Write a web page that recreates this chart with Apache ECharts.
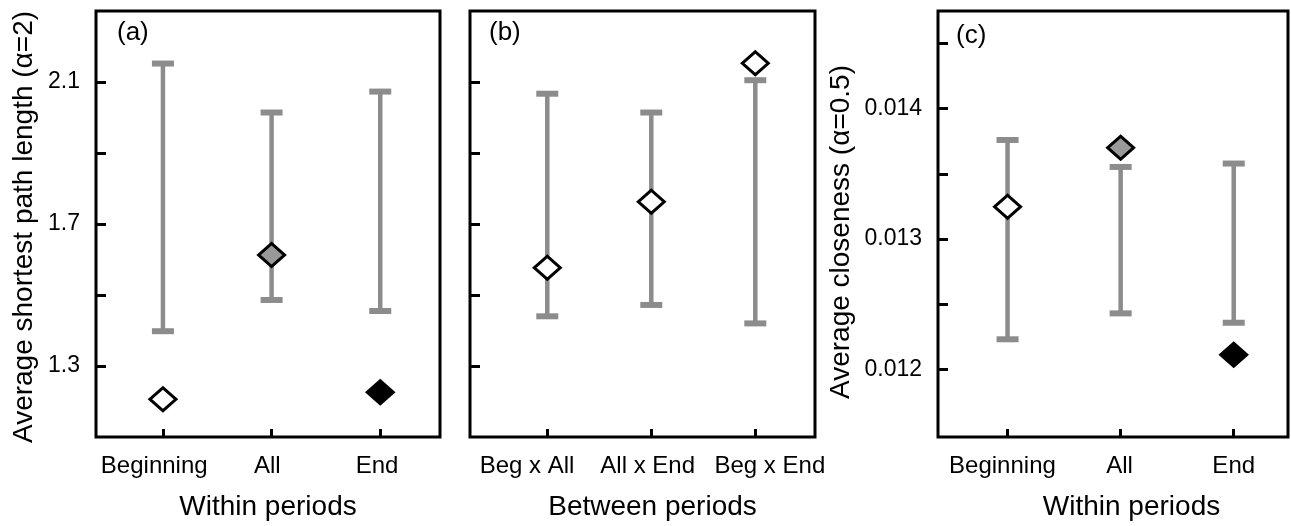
<!DOCTYPE html>
<html>
<head>
<meta charset="utf-8">
<script src="https://cdn.jsdelivr.net/npm/echarts@6/dist/echarts.min.js"></script>
<style>
  html, body { margin: 0; padding: 0; background: #fff; }
  #chart { width: 1291px; height: 526px; }
</style>
</head>
<body>
<div id="chart"></div>
<script>
// ---- data ----
const catsWithin = ['Beginning', 'All', 'End'];
const catsBetween = ['Beg x All', 'All x End', 'Beg x End'];

const pathMeanWithin = [1.206, 1.613, 1.226];
const pathLowWithin  = [1.398, 1.486, 1.455];
const pathHighWithin = [2.152, 2.014, 2.073];

const pathMeanBetween = [1.577, 1.763, 2.153];
const pathLowBetween  = [1.440, 1.472, 1.420];
const pathHighBetween = [2.067, 2.014, 2.105];

const closeMeanWithin = [0.013248, 0.013700, 0.012111];
const closeLowWithin  = [0.012230, 0.012429, 0.012357];
const closeHighWithin = [0.013760, 0.013553, 0.013579];

const pathTicks = [1.3, 1.5, 1.7, 1.9, 2.1];
const pathTickLabels = [1.3, 1.7, 2.1];
const closeTicks = [0.012, 0.0125, 0.013, 0.0135, 0.014, 0.0145];
const closeTickLabels = [0.012, 0.013, 0.014];

const fillsWithin = ['#ffffff', '#999999', '#000000'];
const fillsBetween = ['#ffffff', '#ffffff', '#ffffff'];

// ---- layout / styling (not data) ----
const FONT = 'Liberation Sans, Arial, sans-serif';
const BAR = '#8c8c8c';
// small horizontal nudges of category labels relative to their ticks (in category units)
const LABEL_NUDGE = [
  [-0.08, -0.04, -0.03],
  [-0.195, -0.035, 0.14],
  [-0.045, -0.01, 0.0]
];

function errorBarItem(params, api) {
  const x = api.value(0), lo = api.value(1), hi = api.value(2);
  const pLo = api.coord([x, lo]);
  const pHi = api.coord([x, hi]);
  const half = 11;
  const stem = { stroke: BAR, lineWidth: 4.5 };
  const cap = { stroke: BAR, lineWidth: 6 };
  return {
    type: 'group',
    children: [
      { type: 'line', shape: { x1: pLo[0], y1: pLo[1], x2: pHi[0], y2: pHi[1] }, style: stem },
      { type: 'line', shape: { x1: pHi[0] - half, y1: pHi[1], x2: pHi[0] + half, y2: pHi[1] }, style: cap },
      { type: 'line', shape: { x1: pLo[0] - half, y1: pLo[1], x2: pLo[0] + half, y2: pLo[1] }, style: cap }
    ]
  };
}

function xAxisFor(idx, cats, min, max, name, padLeft) {
  const tickPos = cats.map((c, i) => i);
  const labelPos = cats.map((c, i) => i + LABEL_NUDGE[idx][i]);
  return {
    type: 'value', gridIndex: idx, min: min, max: max,
    splitLine: { show: false },
    axisLine: { show: false, onZero: false },
    axisTick: { show: true, inside: true, length: 8, customValues: tickPos,
                lineStyle: { color: '#000', width: 3 } },
    axisLabel: { show: true, customValues: labelPos, margin: 17,
                 formatter: v => cats[Math.round(v)],
                 fontFamily: FONT, fontSize: 24, color: '#000' },
    name: name, nameLocation: 'middle', nameGap: 56,
    nameTextStyle: { fontFamily: FONT, fontSize: 28, color: '#000', padding: [0, 0, 0, padLeft] }
  };
}

function yAxisFor(idx, min, max, ticks, labels, name, gap, pad) {
  return {
    type: 'value', gridIndex: idx, min: min, max: max,
    splitLine: { show: false },
    axisLine: { show: false, onZero: false },
    axisTick: { show: true, inside: true, length: 10, customValues: ticks,
                lineStyle: { color: '#000', width: 3 } },
    axisLabel: { show: labels.length > 0, customValues: labels, margin: 16,
                 fontFamily: FONT, fontSize: 23, color: '#000' },
    name: name, nameLocation: 'middle', nameGap: gap,
    nameTextStyle: { fontFamily: FONT, fontSize: 28, color: '#000', padding: pad }
  };
}

function barData(lo, hi) { return lo.map((v, i) => [i, v, hi[i]]); }
function pointData(mean, fills) {
  return mean.map((v, i) => ({ value: [i, v], itemStyle: { color: fills[i] } }));
}

const grids = [
  { left: 96, top: 11, width: 344, height: 427 },
  { left: 470, top: 11, width: 345, height: 427 },
  { left: 938, top: 11, width: 350, height: 427 }
].map(g => Object.assign(g, { show: true, borderColor: '#000', borderWidth: 3, backgroundColor: 'transparent' }));

function seriesFor(idx, lo, hi, mean, fills) {
  return [
    { type: 'custom', xAxisIndex: idx, yAxisIndex: idx, renderItem: errorBarItem,
      data: barData(lo, hi), encode: { x: 0, y: [1, 2] }, z: 2, silent: true },
    { type: 'scatter', xAxisIndex: idx, yAxisIndex: idx, symbol: 'diamond', symbolSize: [26, 23],
      data: pointData(mean, fills),
      itemStyle: { borderColor: '#000', borderWidth: 3, opacity: 1 }, z: 3, silent: true }
  ];
}

const option = {
  backgroundColor: '#fff',
  animation: false,
  grid: grids,
  xAxis: [
    xAxisFor(0, catsWithin, -0.616, 2.55, 'Within periods', 0),
    xAxisFor(1, catsBetween, -0.743, 2.574, 'Between periods', 20),
    xAxisFor(2, catsWithin, -0.615, 2.48, 'Within periods', 37)
  ],
  yAxis: [
    yAxisFor(0, 1.1, 2.3, pathTicks, pathTickLabels, 'Average shortest path length (α=2)', 58, [0, 6, 0, 0]),
    yAxisFor(1, 1.1, 2.3, pathTicks, [], '', 10, 0),
    yAxisFor(2, 0.01148, 0.01475, closeTicks, closeTickLabels, 'Average closeness (α=0.5)', 83, [0, 16, 0, 0])
  ],
  series: [].concat(
    seriesFor(0, pathLowWithin, pathHighWithin, pathMeanWithin, fillsWithin),
    seriesFor(1, pathLowBetween, pathHighBetween, pathMeanBetween, fillsBetween),
    seriesFor(2, closeLowWithin, closeHighWithin, closeMeanWithin, fillsWithin)
  ),
  graphic: [
    { type: 'text', left: 117, top: 20, style: { text: '(a)', font: '26px ' + FONT, fill: '#000' } },
    { type: 'text', left: 489, top: 20, style: { text: '(b)', font: '26px ' + FONT, fill: '#000' } },
    { type: 'text', left: 956, top: 23, style: { text: '(c)', font: '26px ' + FONT, fill: '#000' } }
  ]
};

const chart = echarts.init(document.getElementById('chart'), null, { renderer: 'canvas' });
chart.setOption(option);
</script>
</body>
</html>
